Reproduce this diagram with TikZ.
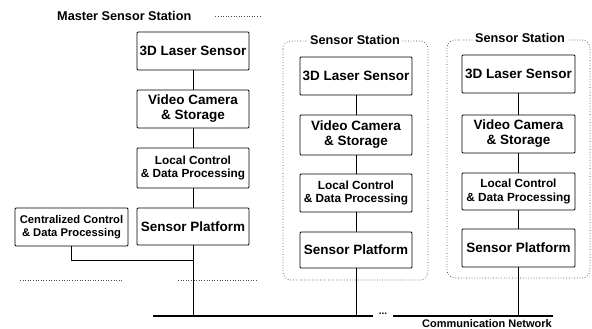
\documentclass[tikz,border=0pt]{standalone}
\usepackage{fontspec}
\setmainfont{Liberation Sans}
\begin{document}
\begin{tikzpicture}[x=1pt,y=-1pt,
  blk/.style={draw, line width=0.9pt, rounded corners=1pt, align=center, inner sep=1pt,
              minimum width=112pt, font=\bfseries\fontsize{13.5}{15}\selectfont},
  smallblk/.style={blk, font=\bfseries\fontsize{11.8}{13.5}\selectfont},
  link/.style={line width=0.7pt},
  station/.style={draw, dotted, line width=0.7pt, black!75, rounded corners=8pt},
  faint/.style={dotted, line width=0.6pt, black!70},
  ttl/.style={fill=white, inner sep=2pt, font=\bfseries\fontsize{12.7}{14}\selectfont},
  bus/.style={line width=2pt}]
\useasboundingbox (0,0) rectangle (592,329);

% station outlines
\draw[station] (283,41) rectangle (428,280);
\draw[station] (447,40) rectangle (590,278);
\node[ttl] (t1) at (355,40) {Sensor Station};
\node[ttl] (t2) at (520,38) {Sensor Station};

% master station
\node[anchor=west, inner sep=0pt, font=\bfseries\fontsize{12.7}{14}\selectfont] (mt) at (57,16) {Master Sensor Station};
\coordinate (mtend) at (262,16);
\draw[faint] ([xshift=24pt]mt.east) -- (mtend);
\coordinate (mb0) at (20,280);
\coordinate (mb1) at (122,280);
\coordinate (mb2) at (178,280);
\coordinate (mb3) at (258,280);
\draw[faint] (mb0) -- (mb1);
\draw[faint] (mb2) -- (mb3);

\node[blk, minimum height=38pt] (m1) at (193,51) {3D Laser Sensor};
\node[blk, minimum height=38pt] (m2) at (193,109) {Video Camera\\\& Storage};
\node[smallblk, minimum height=40pt] (m3) at (193,168) {Local Control\\\& Data Processing};
\node[blk, minimum height=37pt] (m4) at (193,226.5) {Sensor Platform};
\node[smallblk, minimum width=113pt, minimum height=38pt, font=\bfseries\fontsize{11.2}{13}\selectfont] (c) at (71.5,227) {Centralized Control\\\& Data Processing};

% station 1
\node[blk, minimum height=38pt] (s1a) at (356,76) {3D Laser Sensor};
\node[blk, minimum height=40pt] (s1b) at (356,135) {Video Camera\\\& Storage};
\node[smallblk, minimum height=38pt] (s1c) at (356,193) {Local Control\\\& Data Processing};
\node[blk, minimum height=36pt] (s1d) at (356,250) {Sensor Platform};

% station 2
\node[blk, minimum width=113pt, minimum height=38pt] (s2a) at (518.5,74) {3D Laser Sensor};
\node[blk, minimum width=113pt, minimum height=38pt] (s2b) at (518.5,134) {Video Camera\\\& Storage};
\node[smallblk, minimum width=113pt, minimum height=37pt] (s2c) at (518.5,191.5) {Local Control\\\& Data Processing};
\node[blk, minimum width=113pt, minimum height=38pt] (s2d) at (518.5,248) {Sensor Platform};

% bus
\coordinate (b0) at (153,316);
\coordinate (b1) at (373,316);
\coordinate (b2) at (393,316);
\coordinate (b3) at (553,316);
\draw[bus] (b0) -- (b1);
\draw[bus] (b2) -- (b3);
\node[inner sep=0pt, font=\bfseries\fontsize{10}{10}\selectfont] (dots) at (383,314) {...};
\node[font=\bfseries\fontsize{11}{12}\selectfont, inner sep=0pt] (cn) at (487,324) {Communication Network};

% links
\draw[link] (m1) -- (m2);
\draw[link] (m2) -- (m3);
\draw[link] (m3) -- (m4);
\draw[link] (m4.south) -- (m4.south |- b0);
\coordinate (j) at (193,260);
\draw[link] (c.south) |- (j);

\draw[link] (s1a) -- (s1b);
\draw[link] (s1b) -- (s1c);
\draw[link] (s1c) -- (s1d);
\draw[link] (s1d.south) -- (s1d.south |- b0);

\draw[link] (s2a) -- (s2b);
\draw[link] (s2b) -- (s2c);
\draw[link] (s2c) -- (s2d);
\draw[link] (s2d.south) -- (s2d.south |- b0);
\end{tikzpicture}
\end{document}
